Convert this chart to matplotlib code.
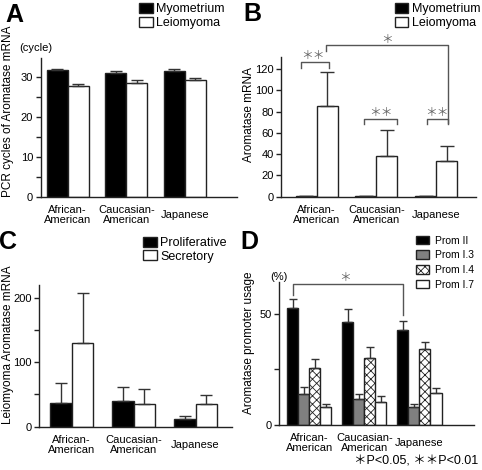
"""Aromatase expression figure, panels A-D"""

import numpy as np
import matplotlib
matplotlib.use('Agg')
import matplotlib.pyplot as plt

plt.rcParams['font.family'] = ['Liberation Sans', 'Noto Sans CJK JP', 'DejaVu Sans']
plt.rcParams['hatch.linewidth'] = 0.6

W, H = 482, 470

groups = ['African-\nAmerican', 'Caucasian-\nAmerican', 'Japanese']

# A: PCR cycles
a_myo = [31.7, 31.1, 31.6]
a_myo_err = [0.3, 0.3, 0.4]
a_leio = [27.7, 28.6, 29.2]
a_leio_err = [0.6, 0.6, 0.6]

# B: aromatase mRNA
b_myo = [0.4, 0.4, 0.4]
b_myo_err = [0, 0, 0]
b_leio = [85.3, 38.3, 33.5]
b_leio_err = [32.2, 24.4, 14.5]

# C: leiomyoma aromatase by cycle phase
c_pro = [37.4, 40.5, 11.4]
c_pro_err = [31.2, 21.8, 5.6]
c_sec = [130.0, 35.8, 34.8]
c_sec_err = [78.0, 23.2, 14.2]

# D: promoter usage (%)
d_labels = ['Prom II', 'Prom I.3', 'Prom I.4', 'Prom I.7']
d_vals = [[52.5, 46.5, 42.6],
          [14.0, 11.6, 8.3],
          [25.5, 30.3, 34.2],
          [8.0, 10.5, 14.3]]
d_errs = [[4.1, 5.8, 4.4],
          [3.0, 2.2, 1.2],
          [4.2, 5.0, 3.2],
          [1.5, 2.7, 2.5]]

EDGE = '#222222'
LINE = '#555555'

fig = plt.figure(figsize=(W / 100, H / 100), dpi=100)


def make_axes(left, right, bottom, top):
    """axes from pixel edges (top-left origin)"""
    return fig.add_axes([left / W, 1 - bottom / H, (right - left) / W, (bottom - top) / H])


def style(ax, pad):
    for s in ['top', 'right']:
        ax.spines[s].set_visible(False)
    for s in ['left', 'bottom']:
        ax.spines[s].set_linewidth(1.0)
        ax.spines[s].set_color(EDGE)
    ax.tick_params(axis='y', direction='out', length=3.4, width=1.0, labelsize=8, pad=2, color=EDGE)
    ax.set_xticks(np.arange(3))
    ax.set_xticklabels(groups, fontsize=8, va='center', linespacing=0.95)
    ax.tick_params(axis='x', length=0, pad=pad)


def bars(ax, pos, vals, errs, w, capsize, **kw):
    ax.bar(pos, vals, w, yerr=[np.zeros(len(vals)), errs], capsize=capsize,
           edgecolor=EDGE, linewidth=1.0,
           error_kw=dict(elinewidth=1.0, capthick=1.0, ecolor='#333333'), **kw)


def legend(ax, px, py, fs, hl, hh, ls, tp):
    ax.legend(loc='upper left', bbox_to_anchor=(px / W, 1 - py / H), bbox_transform=fig.transFigure,
              frameon=False, fontsize=fs, borderpad=0, borderaxespad=0, handlelength=hl,
              handleheight=hh, handletextpad=tp, labelspacing=ls)


def bracket(ax, xs, ys):
    ax.plot(xs, ys, color=LINE, lw=1.0, clip_on=False)


def letter(px, py, s):
    fig.text(px / W, 1 - py / H, s, fontsize=18, fontweight='bold', va='center')


x = np.arange(3)

# ---- A ----
ax = make_axes(40.7, 237, 197, 58)
w = 0.36
bars(ax, x - w / 2, a_myo, a_myo_err, w, 4.5, color='black', label='Myometrium')
bars(ax, x + w / 2, a_leio, a_leio_err, w, 4.5, color='white', label='Leiomyoma')
ax.set_xlim(-0.46, 2.89)
ax.set_ylim(0, 34.75)
ax.set_yticks(np.arange(0, 31, 5))
ax.set_yticklabels(['0', '', '10', '', '20', '', '30'])
style(ax, 13)
legend(ax, 139.3, 3, 9, 1.07, 0.88, 0.1, 0.3)
fig.text(36 / W, 1 - 48 / H, '(cycle)', fontsize=8, ha='center', va='center')
fig.text(8 / W, 1 - 111.5 / H, 'PCR cycles of Aromatase mRNA', fontsize=8.5, rotation=90,
         ha='center', va='center')
letter(5, 15, 'A')

# ---- B ----
ax = make_axes(281, 476, 196.7, 56.7)
w = 0.353
bars(ax, x - w / 2, b_myo, b_myo_err, w, 5, color='black', label='Myometrium')
bars(ax, x + w / 2, b_leio, b_leio_err, w, 5, color='white', label='Leiomyoma')
ax.set_xlim(-0.6, 2.67)
ax.set_ylim(0, 131.6)
ax.set_yticks(np.arange(0, 121, 20))
style(ax, 13)
legend(ax, 395, 3, 9, 1.07, 0.88, 0.1, 0.3)
star = dict(color='#666666', ha='center', va='center', fontsize=8.5, clip_on=False)
bracket(ax, [-0.26, -0.26, 0.2, 0.2], [121.2, 126.3, 126.3, 121.2])
ax.text(-0.06, 132.2, '＊＊', **star)
bracket(ax, [0.8, 0.8, 1.35, 1.35], [68.3, 73, 73, 68.3])
ax.text(1.07, 78.4, '＊＊', **star)
bracket(ax, [1.84, 1.84, 2.2, 2.2], [68.3, 73, 73, 68.3])
ax.text(2.02, 78.4, '＊＊', **star)
bracket(ax, [0.15, 0.15, 2.2, 2.2], [137.2, 142.6, 142.6, 69])
ax.text(1.18, 147, '＊', **star)
fig.text(249 / W, 1 - 114 / H, 'Aromatase mRNA', fontsize=8.5, rotation=90,
         ha='center', va='center')
letter(243, 14, 'B')

# ---- C ----
ax = make_axes(39, 232, 426.7, 285)
w = 0.35
bars(ax, x - w / 2, c_pro, c_pro_err, w, 4.5, color='black', label='Proliferative')
bars(ax, x + w / 2, c_sec, c_sec_err, w, 4.5, color='white', label='Secretory')
ax.set_xlim(-0.53, 2.59)
ax.set_ylim(0, 220)
ax.set_yticks(np.arange(0, 201, 50))
ax.set_yticklabels(['0', '', '100', '', '200'])
style(ax, 13)
legend(ax, 143.3, 236.5, 9, 1.07, 0.88, 0.1, 0.3)
fig.text(8 / W, 1 - 345 / H, 'Leiomyoma Aromatase mRNA', fontsize=8.5, rotation=90,
         ha='center', va='center')
letter(-1, 242, 'C')

# ---- D ----
ax = make_axes(279.3, 474, 425, 281.7)
w = 0.2
d_colors = ['black', '#808080', 'white', 'white']
d_hatch = [None, None, 'xxxx', None]
for i in range(4):
    bars(ax, x + (i - 1.5) * w, d_vals[i], d_errs[i], w, 3.2,
         color=d_colors[i], hatch=d_hatch[i], label=d_labels[i])
ax.set_xlim(-0.545, 2.99)
ax.set_ylim(0, 64.5)
ax.set_yticks([0, 25, 50])
ax.set_yticklabels(['0', '', '50'])
style(ax, 13)
legend(ax, 416, 235.5, 7.5, 1.25, 0.9, 0.45, 0.6)
bracket(ax, [-0.3, -0.3, 1.7, 1.7], [58.6, 63.4, 63.4, 49.5])
ax.text(0.65, 66.4, '＊', **star)
fig.text(279.3 / W, 1 - 277 / H, '(%)', fontsize=8, ha='center', va='center')
fig.text(249 / W, 1 - 343 / H, 'Aromatase promoter usage', fontsize=8.5, rotation=90,
         ha='center', va='center')
letter(240, 242, 'D')

fig.text(478 / W, 1 - 462 / H, '＊P<0.05, ＊＊P<0.01', fontsize=9, ha='right', va='center')

fig.savefig('out.png', dpi=100)
